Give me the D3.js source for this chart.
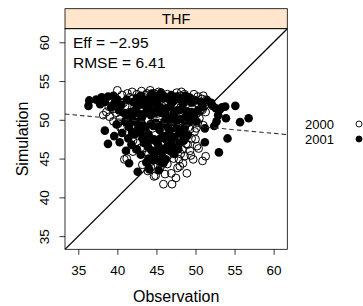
<!DOCTYPE html>
<html>
<head>
<meta charset="utf-8">
<script src="https://cdn.jsdelivr.net/npm/d3@7"></script>
<style>
  body { margin: 0; background: #fff; }
  svg { display: block; font-family: "Liberation Sans", Arial, sans-serif; }
</style>
</head>
<body>
<div id="chart"></div>
<script>
// Datos
const panelTitle = 'THF';
const effLabel = 'Eff = \u22122.95';
const rmseLabel = 'RMSE = 6.41';
const tickValues = [35, 40, 45, 50, 55, 60];
const axisLimits = [33.3, 61.75];
const fitCoef = [53.85, -0.0933]; // intercepto, pendiente de la recta de ajuste
const years = ['2000', '2001'];

// 2000 (círculos abiertos)
const obs2000 = [40.0, 40.6, 41.3, 41.9, 42.5, 43.1, 43.6, 44.2, 44.7, 45.3, 45.9, 46.4, 47.0, 47.6, 48.1, 48.6, 49.2, 49.7, 50.3, 50.8, 51.0, 39.2, 39.6, 43.4, 45.0, 46.8, 48.9, 50.1,
  38.2, 38.6, 39.0, 39.4, 39.9, 40.3, 40.1, 40.6, 39.5, 41.0, 41.5, 40.8,
  41.8, 42.2, 42.6, 42.9, 43.3, 43.5, 43.9, 44.2, 44.5, 44.8, 45.1, 45.4, 45.7, 46.0, 46.3, 46.6, 46.9, 47.2, 47.5, 47.8, 48.1, 48.4, 48.7, 49.0, 49.3, 49.6, 42.0, 43.0, 44.0, 45.6, 47.4, 48.3, 49.0, 46.5, 44.6, 42.6,
  40.9, 41.2, 42.0, 43.2, 43.9, 44.3, 44.7, 44.9, 45.5, 45.9, 46.4, 46.9, 47.0, 47.5, 47.9, 48.0, 48.4, 48.9, 48.6, 47.2, 45.2, 49.7, 50.9, 51.3, 50.2, 50.4, 49.3, 48.1,
  49.9, 50.1, 50.5, 50.9, 51.3, 50.3, 51.6, 49.5, 48.8,
  41.6, 42.8, 44.6, 46.1, 47.3, 48.4, 49.8, 38.9, 40.4, 41.3, 42.4, 43.7, 44.3, 45.7, 46.1, 47.7, 48.8, 49.4, 50.0, 51.0, 49.8, 51.4, 48.2, 43.8, 45.4];
const sim2000 = [53.8, 53.2, 53.4, 53.6, 53.3, 53.7, 53.2, 53.8, 53.4, 53.6, 53.1, 53.3, 53.0, 53.5, 53.1, 53.3, 52.9, 52.6, 53.0, 52.7, 53.1, 52.6, 52.9, 52.9, 52.7, 52.4, 52.4, 52.2,
  50.6, 51.0, 50.4, 51.4, 50.9, 50.1, 49.5, 48.9, 49.8, 51.8, 50.3, 52.2,
  49.3, 51.6, 50.5, 48.6, 51.1, 47.8, 50.0, 52.1, 48.9, 46.9, 50.8, 49.6, 51.8, 48.2, 50.3, 47.3, 51.2, 49.1, 50.7, 48.0, 51.6, 49.8, 47.6, 50.9, 48.8, 51.5, 47.3, 46.4, 45.6, 46.0, 46.6, 46.2, 46.8, 45.4, 47.4, 47.0,
  44.9, 45.0, 45.9, 44.2, 43.4, 44.6, 42.7, 42.8, 43.9, 41.7, 44.3, 43.1, 41.7, 42.5, 44.9, 44.0, 44.4, 43.1, 45.3, 45.0, 45.2, 44.9, 44.7, 45.3, 46.6, 46.3, 46.0, 45.6,
  48.5, 48.9, 50.2, 51.3, 51.0, 49.6, 52.3, 47.6, 48.3,
  52.9, 52.4, 53.1, 52.8, 52.1, 52.8, 53.3, 51.7, 49.0, 48.1, 46.2, 45.5, 43.9, 44.5, 43.0, 43.8, 46.9, 45.4, 47.5, 49.3, 50.0, 52.6, 53.6, 53.4, 52.3];

// 2001 (círculos llenos)
const obs2001 = [36.3, 36.4, 37.3, 38.0, 38.8, 39.6, 38.4, 37.8, 39.2, 40.0, 40.5, 39.5,
  38.4, 38.8, 39.6, 40.3, 41.1, 41.5, 42.6, 43.7, 44.1, 45.3, 46.2, 47.3, 48.0, 39.9, 40.6, 41.0, 41.4, 41.8, 42.2, 42.5, 43.0, 43.4, 44.0, 44.6, 45.0, 45.8, 46.4, 47.0,
  41.2, 41.7, 42.0, 42.4, 42.8, 43.1, 43.3, 43.6, 43.8, 44.0, 44.3, 44.5, 44.7, 44.9, 45.1, 45.2, 45.4, 45.6, 45.8, 45.9, 46.1, 46.3, 46.5, 46.7, 46.9, 47.1, 47.3, 47.5, 47.7, 47.9, 48.2, 48.4, 48.6, 48.9, 49.2, 49.5, 49.8, 42.1, 42.7, 43.2, 43.9, 44.2, 44.8, 45.3, 45.7, 46.0, 46.6, 47.2, 47.8, 48.5, 43.5, 44.6, 45.5, 46.4, 42.3, 41.5, 47.6, 48.8, 44.1, 46.8,
  48.6, 50.1, 51.2, 51.2, 52.4, 52.7, 52.9, 53.1, 53.9, 53.8, 53.0, 55.1, 55.7, 56.8, 54.1, 52.2, 50.9, 50.7, 51.5, 52.0, 50.3, 49.4, 52.6, 53.4,
  42.5, 43.0, 43.7, 44.4, 45.0, 45.6, 46.2, 46.9, 47.4, 48.0, 48.7, 49.3, 50.0,
  42.0, 42.9, 43.6, 44.3, 44.9, 45.5, 46.2, 46.8, 47.4, 48.1, 48.7, 49.5,
  43.0, 43.8, 44.4, 45.0, 45.6, 46.2, 46.9, 47.6, 48.3, 49.0,
  41.3, 41.9, 40.8, 40.2, 44.7, 45.9, 45.4, 43.2, 46.5, 47.0];
const sim2001 = [51.8, 52.5, 52.6, 52.9, 53.0, 52.1, 52.3, 52.0, 51.6, 52.6, 51.9, 53.1,
  48.6, 46.9, 47.9, 47.1, 46.0, 44.4, 43.3, 44.5, 43.6, 43.5, 44.9, 45.6, 47.0, 49.4, 48.3, 49.8, 47.6, 46.8, 48.1, 46.2, 45.5, 47.0, 45.0, 44.8, 45.9, 45.2, 46.1, 46.7,
  52.6, 51.0, 52.3, 49.7, 51.9, 50.2, 52.7, 49.0, 51.4, 48.1, 50.6, 52.4, 47.5, 49.6, 51.9, 46.8, 48.7, 50.9, 52.8, 47.9, 49.9, 51.5, 46.9, 48.6, 50.4, 52.3, 47.7, 49.5, 51.2, 48.4, 50.1, 52.0, 48.9, 51.1, 49.7, 52.2, 50.6, 50.8, 48.8, 47.6, 46.5, 52.9, 51.1, 53.2, 49.4, 46.3, 52.7, 50.9, 46.2, 47.3, 50.8, 49.2, 47.6, 48.0, 51.3, 49.1, 53.0, 52.6, 51.7, 49.7,
  49.2, 49.8, 48.9, 47.1, 49.2, 49.8, 50.6, 51.3, 50.2, 51.7, 45.8, 51.8, 49.7, 50.2, 47.6, 51.8, 51.7, 52.3, 52.5, 52.2, 51.2, 50.4, 51.5, 51.6,
  52.8, 53.1, 52.2, 53.4, 52.5, 53.5, 52.9, 53.2, 52.6, 52.7, 53.1, 52.8, 52.5,
  49.9, 50.7, 51.8, 49.5, 50.9, 51.6, 50.6, 51.7, 50.3, 51.3, 50.4, 51.0,
  48.3, 47.1, 46.0, 47.2, 45.9, 47.5, 45.9, 48.9, 48.1, 48.0,
  50.5, 48.4, 50.9, 51.2, 45.3, 44.4, 44.6, 49.4, 49.0, 47.8];

const width = 363, height = 306;
const panel = { l: 65, r: 287.3, t: 28.7, b: 249.3 };

const svg = d3.select('#chart').append('svg')
  .attr('width', width)
  .attr('height', height);

svg.append('rect').attr('width', width).attr('height', height).attr('fill', '#fff');

const x = d3.scaleLinear().domain(axisLimits).range([panel.l, panel.r]);
const y = d3.scaleLinear().domain(axisLimits).range([panel.b, panel.t]);

svg.append('clipPath').attr('id', 'clip')
  .append('rect')
  .attr('x', panel.l).attr('y', panel.t)
  .attr('width', panel.r - panel.l).attr('height', panel.b - panel.t);

// Franja del título
svg.append('rect')
  .attr('x', panel.l).attr('y', 8.7)
  .attr('width', panel.r - panel.l).attr('height', panel.t - 8.7)
  .attr('fill', '#ffe5cc').attr('stroke', '#000').attr('stroke-width', 0.8);
svg.append('text')
  .attr('x', (panel.l + panel.r) / 2).attr('y', 24)
  .attr('text-anchor', 'middle').attr('font-size', 14.5)
  .text(panelTitle);

const plot = svg.append('g').attr('clip-path', 'url(#clip)');

// Puntos
const pts2000 = obs2000.map((v, i) => [v, sim2000[i]]);
const pts2001 = obs2001.map((v, i) => [v, sim2001[i]]);

plot.selectAll('.p2000').data(pts2000).enter().append('circle')
  .attr('cx', d => x(d[0])).attr('cy', d => y(d[1]))
  .attr('r', 3.9).attr('fill', 'none').attr('stroke', '#000').attr('stroke-width', 1);

plot.selectAll('.p2001').data(pts2001).enter().append('circle')
  .attr('cx', d => x(d[0])).attr('cy', d => y(d[1]))
  .attr('r', 4.3).attr('fill', '#000');

// Recta 1:1
plot.append('line')
  .attr('x1', x(axisLimits[0])).attr('y1', y(axisLimits[0]))
  .attr('x2', x(axisLimits[1])).attr('y2', y(axisLimits[1]))
  .attr('stroke', '#000').attr('stroke-width', 1.3);

// Recta de ajuste
plot.append('line')
  .attr('x1', x(axisLimits[0])).attr('y1', y(fitCoef[0] + fitCoef[1] * axisLimits[0]))
  .attr('x2', x(axisLimits[1])).attr('y2', y(fitCoef[0] + fitCoef[1] * axisLimits[1]))
  .attr('stroke', '#333').attr('stroke-width', 1.1).attr('stroke-dasharray', '4.5,3');

// Textos de métricas
svg.append('text').attr('x', 73).attr('y', 48).attr('font-size', 15.5).text(effLabel);
svg.append('text').attr('x', 73).attr('y', 68).attr('font-size', 15.5).text(rmseLabel);

// Marco del panel
svg.append('rect')
  .attr('x', panel.l).attr('y', panel.t)
  .attr('width', panel.r - panel.l).attr('height', panel.b - panel.t)
  .attr('fill', 'none').attr('stroke', '#000').attr('stroke-width', 0.8);

// Ejes
const xAxis = svg.append('g')
  .attr('transform', `translate(0,${panel.b})`)
  .call(d3.axisBottom(x).tickValues(tickValues).tickSize(5.5).tickPadding(4));
const yAxis = svg.append('g')
  .attr('transform', `translate(${panel.l},0)`)
  .call(d3.axisLeft(y).tickValues(tickValues).tickSize(5.5).tickPadding(4));

[xAxis, yAxis].forEach(g => {
  g.select('.domain').remove();
  g.selectAll('line').attr('stroke', '#000').attr('stroke-width', 0.8);
  g.selectAll('text').attr('font-size', 13.5).attr('fill', '#000')
    .attr('font-family', '"Liberation Sans", Arial, sans-serif');
});
xAxis.selectAll('text').attr('dy', null).attr('y', 26);

yAxis.selectAll('text')
  .attr('x', null).attr('dy', null)
  .attr('text-anchor', 'middle')
  .attr('transform', 'translate(-15.6,0) rotate(-90)')
  .attr('y', 0);

// Títulos de los ejes
svg.append('text')
  .attr('x', (panel.l + panel.r) / 2).attr('y', 302)
  .attr('text-anchor', 'middle').attr('font-size', 16)
  .text('Observation');
svg.append('text')
  .attr('transform', `translate(28,${(panel.t + panel.b) / 2}) rotate(-90)`)
  .attr('text-anchor', 'middle').attr('font-size', 16)
  .text('Simulation');

// Leyenda
const legend = svg.append('g');
years.forEach((yr, i) => {
  const ly = 128.5 + i * 15;
  legend.append('text').attr('x', 305).attr('y', ly).attr('font-size', 13).text(yr);
  legend.append('circle')
    .attr('cx', 359).attr('cy', ly - 4.5).attr('r', 3)
    .attr('fill', i === 0 ? 'none' : '#000')
    .attr('stroke', '#000').attr('stroke-width', 0.9);
});
</script>
</body>
</html>
